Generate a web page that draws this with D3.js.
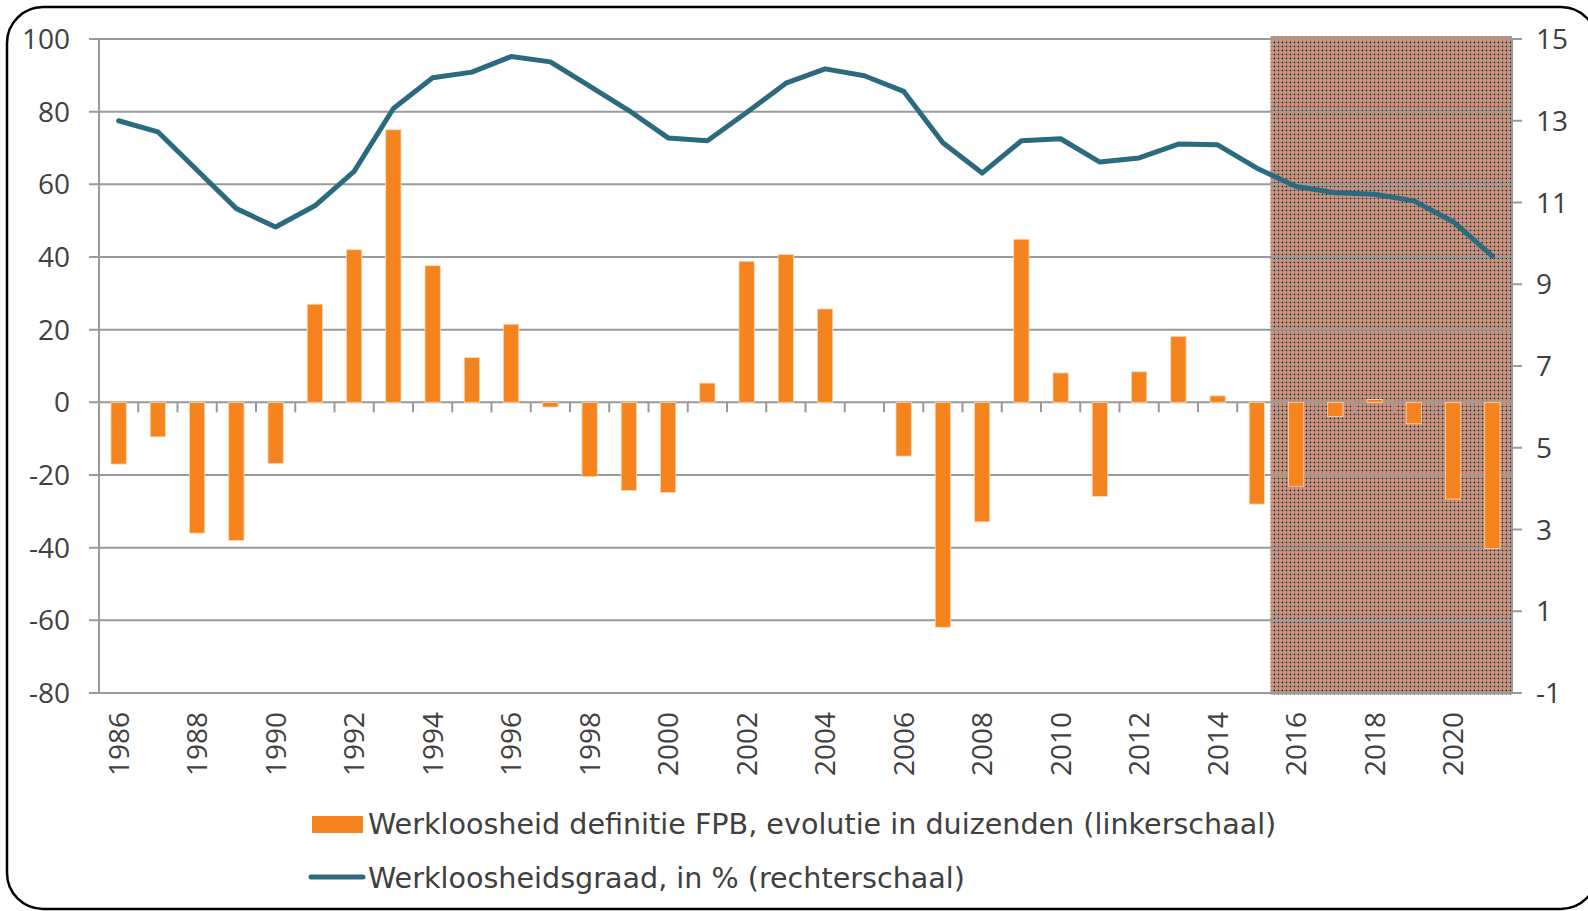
<!DOCTYPE html>
<html>
<head>
<meta charset="utf-8">
<script src="https://cdn.jsdelivr.net/npm/d3@7"></script>
<style>
  body { margin: 0; background: #fff; }
  svg { display: block; font-family: "Open Sans", sans-serif; }
  .tick-label { fill: #404040; font-size: 28px; }
  .legend-label { fill: #404040; font-size: 28.6px; font-family: "DejaVu Sans", sans-serif; }
</style>
</head>
<body>
<div id="chart"></div>
<script>
// svg size and plot box
const svgWidth = 1588;
const svgHeight = 911;
const margin = { top: 39, right: 76, bottom: 218, left: 99 };
var width = svgWidth - margin.left - margin.right;
var height = svgHeight - margin.top - margin.bottom;

// data
var years = ["1986", "1987", "1988", "1989", "1990", "1991", "1992", "1993", "1994", "1995",
  "1996", "1997", "1998", "1999", "2000", "2001", "2002", "2003", "2004", "2005",
  "2006", "2007", "2008", "2009", "2010", "2011", "2012", "2013", "2014", "2015",
  "2016", "2017", "2018", "2019", "2020", "2021"];

// evolution in thousands (left scale)
var evolutie = [-17, -9.5, -36, -38, -16.8, 27, 42, 75, 37.6, 12.3,
  21.5, -1.3, -20.4, -24.3, -24.8, 5.3, 38.8, 40.7, 25.7, 0,
  -14.8, -61.9, -32.9, 44.9, 8.1, -25.9, 8.4, 18.1, 1.8, -28,
  -23.1, -3.9, 0.8, -5.9, -26.6, -40.2];

// unemployment rate in % (right scale)
var graad = [13.0, 12.73, 11.79, 10.85, 10.40, 10.92, 11.76, 13.30, 14.05, 14.19,
  14.57, 14.44, 13.85, 13.25, 12.58, 12.51, 13.20, 13.92, 14.27, 14.10,
  13.72, 12.46, 11.72, 12.51, 12.56, 11.99, 12.09, 12.43, 12.41, 11.84,
  11.39, 11.24, 11.20, 11.04, 10.53, 9.69];

var leftTicks = [100, 80, 60, 40, 20, 0, -20, -40, -60, -80];
var rightTicks = [15, 13, 11, 9, 7, 5, 3, 1, -1];
var projectionStart = "2016";

var legendLabels = [
  "Werkloosheid definitie FPB, evolutie in duizenden (linkerschaal)",
  "Werkloosheidsgraad, in % (rechterschaal)"
];

var barColor = "#f5841f";
var lineColor = "#2b6a7f";
var gridColor = "#9a9a9a";

var svg = d3.select("#chart")
  .append("svg")
  .attr("width", svgWidth)
  .attr("height", svgHeight);

// rounded frame
svg.append("rect")
  .attr("x", 7)
  .attr("y", 7)
  .attr("width", 1590)
  .attr("height", 902)
  .attr("rx", 36)
  .attr("fill", "none")
  .attr("stroke", "#000")
  .attr("stroke-width", 2.5);

// dotted pattern for the projection area
var defs = svg.append("defs");
var pattern = defs.append("pattern")
  .attr("id", "shade")
  .attr("patternUnits", "userSpaceOnUse")
  .attr("width", 4)
  .attr("height", 4);
pattern.append("rect").attr("width", 4).attr("height", 4).attr("fill", "#d98c72");
pattern.append("rect").attr("x", 3).attr("width", 1).attr("height", 4).attr("fill", "#868a84");
pattern.append("rect").attr("y", 3).attr("width", 4).attr("height", 1).attr("fill", "#868a84");
pattern.append("rect").attr("x", 3).attr("y", 3).attr("width", 1).attr("height", 1).attr("fill", "#111");

var chart = svg.append("g")
  .attr("transform", `translate(${margin.left}, ${margin.top})`);

// scales
var xScale = d3.scaleBand()
  .domain(years)
  .range([0, width])
  .padding(0);

var yLeft = d3.scaleLinear()
  .domain([-80, 100])
  .range([height, 0]);

var yRight = d3.scaleLinear()
  .domain([-1, 15])
  .range([height, 0]);

var step = xScale.step();

// projection shading
var shadeX = xScale(projectionStart) - step * 0.15;
chart.append("rect")
  .attr("x", shadeX)
  .attr("y", -3)
  .attr("width", width - shadeX)
  .attr("height", height + 4.5)
  .attr("fill", "url(#shade)");

// horizontal gridlines + left ticks
chart.append("g")
  .selectAll("line")
  .data(leftTicks)
  .enter()
  .append("line")
  .attr("x1", -10)
  .attr("x2", width)
  .attr("y1", d => yLeft(d))
  .attr("y2", d => yLeft(d))
  .attr("stroke", gridColor)
  .attr("stroke-width", 2);

// left axis line
chart.append("line")
  .attr("x1", 0).attr("x2", 0)
  .attr("y1", 0).attr("y2", height)
  .attr("stroke", gridColor)
  .attr("stroke-width", 2);

// right axis line with ticks
chart.append("line")
  .attr("x1", width).attr("x2", width)
  .attr("y1", 0).attr("y2", height)
  .attr("stroke", gridColor)
  .attr("stroke-width", 2);

chart.append("g")
  .selectAll("line")
  .data(rightTicks)
  .enter()
  .append("line")
  .attr("x1", width)
  .attr("x2", width + 10)
  .attr("y1", d => yRight(d))
  .attr("y2", d => yRight(d))
  .attr("stroke", gridColor)
  .attr("stroke-width", 2);

// category ticks on the zero line
chart.append("g")
  .selectAll("line")
  .data(years.slice(1).concat(["end"]))
  .enter()
  .append("line")
  .attr("x1", (d, i) => (i + 1) * step)
  .attr("x2", (d, i) => (i + 1) * step)
  .attr("y1", yLeft(0))
  .attr("y2", yLeft(0) + 10)
  .attr("stroke", gridColor)
  .attr("stroke-width", 2);

// left tick labels
chart.append("g")
  .selectAll("text")
  .data(leftTicks)
  .enter()
  .append("text")
  .attr("class", "tick-label")
  .attr("x", -29)
  .attr("y", d => yLeft(d))
  .attr("dy", "0.36em")
  .attr("text-anchor", "end")
  .text(d => d);

// right tick labels
chart.append("g")
  .selectAll("text")
  .data(rightTicks)
  .enter()
  .append("text")
  .attr("class", "tick-label")
  .attr("x", width + 24)
  .attr("y", d => yRight(d))
  .attr("dy", "0.36em")
  .attr("text-anchor", "start")
  .text(d => d);

// year labels, every second year, rotated
chart.append("g")
  .selectAll("text")
  .data(years.filter((d, i) => i % 2 === 0))
  .enter()
  .append("text")
  .attr("class", "tick-label")
  .attr("text-anchor", "end")
  .attr("dy", "0.36em")
  .attr("transform", d => `translate(${xScale(d) + step / 2}, ${height + 19}) rotate(-90)`)
  .text(d => d);

// bars
var barWidth = step * 0.39;
chart.append("g")
  .selectAll("rect")
  .data(years)
  .enter()
  .append("rect")
  .attr("x", d => xScale(d) + (step - barWidth) / 2)
  .attr("y", (d, i) => yLeft(Math.max(0, evolutie[i])))
  .attr("width", barWidth)
  .attr("height", (d, i) => Math.abs(yLeft(evolutie[i]) - yLeft(0)))
  .attr("fill", barColor)
  .attr("stroke", "#fcd9b8")
  .attr("stroke-width", 0.8);

// unemployment rate line
var line = d3.line()
  .x((d, i) => xScale(years[i]) + step / 2)
  .y(d => yRight(d));

chart.append("path")
  .datum(graad)
  .attr("d", line)
  .attr("fill", "none")
  .attr("stroke", lineColor)
  .attr("stroke-width", 5)
  .attr("stroke-linejoin", "round")
  .attr("stroke-linecap", "round");

// legend
var legend = svg.append("g");

legend.append("rect")
  .attr("x", 312)
  .attr("y", 816)
  .attr("width", 51)
  .attr("height", 17)
  .attr("fill", barColor);

legend.append("line")
  .attr("x1", 311)
  .attr("x2", 363)
  .attr("y1", 877)
  .attr("y2", 877)
  .attr("stroke", lineColor)
  .attr("stroke-width", 5)
  .attr("stroke-linecap", "round");

legend.selectAll("text")
  .data(legendLabels)
  .enter()
  .append("text")
  .attr("class", "legend-label")
  .attr("x", 368)
  .attr("y", (d, i) => 834 + i * 54)
  .text(d => d);
</script>
</body>
</html>
